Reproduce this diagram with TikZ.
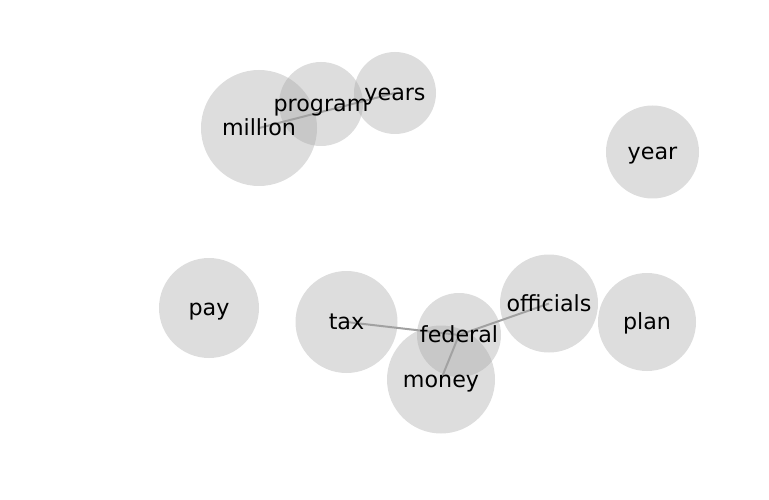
\documentclass[tikz,border=0pt]{standalone}
\usepackage{fontspec}
\setmainfont{DejaVu Sans}
\begin{document}
\begin{tikzpicture}[x=1pt,y=-1pt,
  bub/.style={circle, fill={rgb,255:red,165;green,165;blue,165}, fill opacity=0.38, draw=none, inner sep=0pt},
  lbl/.style={inner sep=0pt, anchor=base, yshift=-7.7pt, font=\fontsize{22.2}{26}\selectfont, text=black},
  edge/.style={draw={rgb,255:red,160;green,160;blue,160}, line width=2pt}]
\useasboundingbox (0,0) rectangle (769,500);
% node positions
\coordinate (million) at (259,128);
\coordinate (program) at (321,104);
\coordinate (years) at (395,93);
\coordinate (year) at (652.5,152);
\coordinate (pay) at (209,308);
\coordinate (tax) at (346.5,322);
\coordinate (federal) at (459,335);
\coordinate (officials) at (549,303.5);
\coordinate (plan) at (647,322);
\coordinate (money) at (441,379.5);
% edges
\draw[edge] (million) -- (years);
\draw[edge] (tax) -- (federal);
\draw[edge] (federal) -- (officials);
\draw[edge] (federal) -- (money);
% circles
\node[bub, minimum size=116pt] (cmillion) at (million) {};
\node[bub, minimum size=84pt] (cprogram) at (program) {};
\node[bub, minimum size=82pt] (cyears) at (years) {};
\node[bub, minimum size=93pt] (cyear) at (year) {};
\node[bub, minimum size=100pt] (cpay) at (pay) {};
\node[bub, minimum size=102pt] (ctax) at (tax) {};
\node[bub, minimum size=84pt] (cfederal) at (federal) {};
\node[bub, minimum size=98pt] (cofficials) at (officials) {};
\node[bub, minimum size=98pt] (cplan) at (plan) {};
\node[bub, minimum size=108pt] (cmoney) at (money) {};
% labels
\node[lbl] (lmillion) at (million) {million};
\node[lbl] (lprogram) at (program) {program};
\node[lbl] (lyears) at (years) {years};
\node[lbl] (lyear) at (year) {year};
\node[lbl] (lpay) at (pay) {pay};
\node[lbl] (ltax) at (tax) {tax};
\node[lbl] (lfederal) at (federal) {federal};
\node[lbl] (lofficials) at (officials) {officials};
\node[lbl] (lplan) at (plan) {plan};
\node[lbl] (lmoney) at (money) {money};
\end{tikzpicture}
\end{document}
